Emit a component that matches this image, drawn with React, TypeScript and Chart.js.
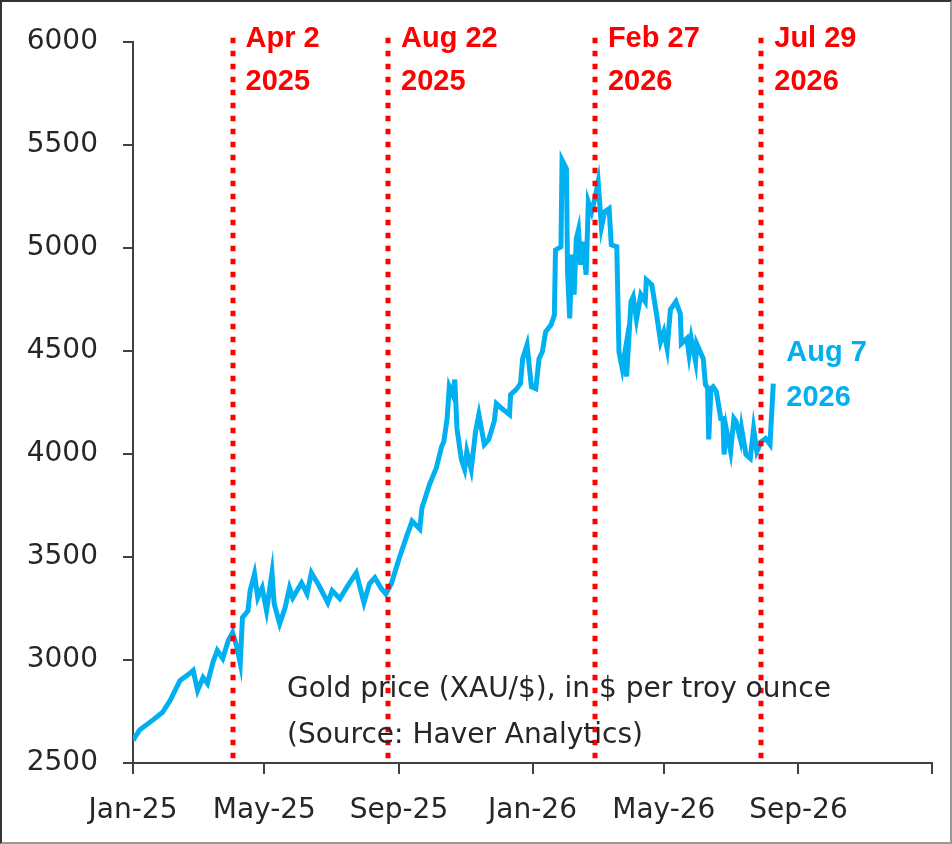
import React, { useEffect, useRef } from 'react'
import { Chart, registerables } from 'chart.js'

Chart.register(...registerables)

document.body.style.margin = '0'

// days counted from 1 Jan 2025
const days = [
	0, 6, 18, 27, 34, 43, 52, 55, 59, 64, 68, 73, 77, 82, 87, 91, 95, 98, 100, 105,
	107, 111, 114, 118, 122, 127, 129, 134, 139, 143, 146, 154, 159, 163, 170, 178,
	182, 189, 195, 204, 211, 216, 221, 227, 231, 236, 243, 250, 255, 262, 264, 271,
	277, 282, 284, 287, 289, 292, 294, 296, 300, 303, 305, 309, 313, 316, 321, 325,
	330, 332, 337, 344, 345, 350, 354, 356, 360, 364, 368, 371, 374, 377, 382, 385,
	386, 391, 392, 396, 397, 399, 401, 403, 405, 407, 409, 411, 414, 416, 419, 422,
	425, 428, 431, 435, 437, 442, 444, 447, 450, 451, 455, 457, 460, 464, 468, 469,
	474, 478, 482, 485, 488, 491, 496, 500, 501, 506, 508, 510, 514, 515, 521, 523,
	525, 526, 528, 530, 533, 537, 539, 540, 542, 546, 549, 551, 555, 556, 560, 564,
	567, 570, 574, 578, 582, 585,
]

// gold price, $ per troy ounce
const prices = [
	2610, 2660, 2708, 2746, 2804, 2901, 2935, 2949, 2852, 2915, 2886, 2988, 3046, 3007,
	3094, 3133, 3060, 2983, 3205, 3239, 3336, 3418, 3302, 3350, 3239, 3423, 3273, 3176,
	3254, 3350, 3302, 3374, 3321, 3423, 3360, 3278, 3336, 3297, 3350, 3423, 3278, 3370,
	3399, 3346, 3321, 3370, 3490, 3600, 3674, 3636, 3737, 3853, 3930, 4036, 4060, 4172,
	4326, 4288, 4360, 4123, 3973, 3925, 4012, 3925, 4109, 4191, 4046, 4070, 4157, 4244,
	4220, 4191, 4288, 4312, 4341, 4462, 4530, 4326, 4317, 4462, 4496, 4593, 4627, 4675,
	4990, 5005, 5426, 5383, 4885, 4658, 4967, 4773, 5044, 5088, 4918, 5030, 4870, 5223,
	5175, 5238, 5320, 5100, 5175, 5190, 5015, 5005, 4496, 4414, 4511, 4375, 4739, 4763,
	4652, 4773, 4739, 4845, 4821, 4690, 4545, 4593, 4511, 4700, 4739, 4681, 4535, 4560,
	4482, 4560, 4448, 4535, 4462, 4336, 4320, 4070, 4317, 4326, 4302, 4172, 4172, 3997,
	4123, 4012, 4172, 4157, 4070, 4123, 3997, 3978, 4123, 4012, 4060, 4075, 4046, 4341,
]

const tickDays = [0, 120, 243, 365, 485, 608, 730]
const tickLabels = ['Jan-25', 'May-25', 'Sep-25', 'Jan-26', 'May-26', 'Sep-26', '']

const eventDays = [91, 233, 422, 574]
const eventLabels = [
	['Apr 2', '2025'],
	['Aug 22', '2025'],
	['Feb 27', '2026'],
	['Jul 29', '2026'],
]

const lastLabel = ['Aug 7', '2026']
const noteLines = ['Gold price (XAU/$), in $ per troy ounce', '(Source: Haver Analytics)']

const axisColor = '#404040'
const goldBlue = '#00B0F0'
const red = '#FF0000'

const overlay = {
	id: 'overlay',
	afterDatasetsDraw(chart: any) {
		const { ctx, chartArea, scales } = chart
		const x = scales.x
		ctx.save()

		// dotted event lines
		ctx.strokeStyle = red
		ctx.lineWidth = 5
		ctx.setLineDash([5.5, 7.5])
		eventDays.forEach((d) => {
			const px = Math.round(x.getPixelForValue(d))
			ctx.beginPath()
			ctx.moveTo(px, chartArea.top - 4)
			ctx.lineTo(px, chartArea.bottom)
			ctx.stroke()
		})
		ctx.setLineDash([])

		ctx.font = 'bold 29px "Liberation Sans", Arial, sans-serif'
		ctx.textAlign = 'left'
		ctx.textBaseline = 'alphabetic'
		ctx.fillStyle = red
		eventDays.forEach((d, i) => {
			const px = x.getPixelForValue(d) + 13
			ctx.fillText(eventLabels[i][0], px, chartArea.top + 5)
			ctx.fillText(eventLabels[i][1], px, chartArea.top + 48)
		})

		// last observation
		const lx = x.getPixelForValue(days[days.length - 1]) + 13
		ctx.fillStyle = goldBlue
		ctx.fillText(lastLabel[0], lx, chartArea.top + 319)
		ctx.fillText(lastLabel[1], lx, chartArea.top + 364)

		// note
		ctx.font = '28px "DejaVu Sans", sans-serif'
		ctx.fillStyle = '#262626'
		ctx.fillText(noteLines[0], chartArea.left + 154, chartArea.bottom - 66)
		ctx.fillText(noteLines[1], chartArea.left + 154, chartArea.bottom - 20)

		ctx.restore()
	},
}

const GoldChart: React.FC = () => {
	const chartRef = useRef<HTMLCanvasElement>(null)

	useEffect(() => {
		if (!chartRef.current) return
		const context = chartRef.current.getContext('2d')
		if (!context) return

		const chart = new Chart(context, {
			type: 'line',
			data: {
				datasets: [
					{
						label: 'Gold price',
						data: days.map((d, i) => ({ x: d, y: prices[i] })),
						borderColor: goldBlue,
						borderWidth: 5,
						pointRadius: 0,
						tension: 0,
						fill: false,
					},
				],
			},
			options: {
				animation: false,
				responsive: true,
				maintainAspectRatio: false,
				layout: { padding: { top: 39, right: 18, left: 0, bottom: 0 } },
				plugins: {
					legend: { display: false },
					tooltip: { enabled: false },
				},
				scales: {
					x: {
						type: 'linear',
						min: 0,
						max: 730,
						afterBuildTicks: (scale: any) => {
							scale.ticks = tickDays.map((v) => ({ value: v }))
						},
						afterFit: (scale: any) => {
							scale.height = 81
						},
						grid: {
							display: true,
							drawOnChartArea: false,
							drawTicks: true,
							tickLength: 11,
							color: axisColor,
							lineWidth: 2,
						},
						border: { display: true, color: axisColor, width: 2 },
						ticks: {
							autoSkip: false,
							maxRotation: 0,
							padding: 20,
							color: '#262626',
							font: { family: '"DejaVu Sans", sans-serif', size: 28 },
							callback: (_v: any, i: number) => tickLabels[i],
						},
					},
					y: {
						min: 2500,
						max: 6000,
						afterFit: (scale: any) => {
							scale.width = 133
						},
						grid: {
							display: true,
							drawOnChartArea: false,
							drawTicks: true,
							tickLength: 10,
							color: axisColor,
							lineWidth: 2,
						},
						border: { display: true, color: axisColor, width: 2 },
						ticks: {
							stepSize: 500,
							padding: 25,
							color: '#262626',
							font: { family: '"DejaVu Sans", sans-serif', size: 28 },
							callback: (v: any) => String(v),
						},
					},
				},
			},
			plugins: [overlay],
		})

		return () => {
			chart.destroy()
		}
	}, [])

	return <canvas ref={chartRef} />
}

export default function App() {
	return (
		<div style={{ position: 'relative', width: 952, height: 844, background: '#fff' }}>
			<GoldChart />
			<div
				style={{
					position: 'absolute',
					inset: 0,
					boxSizing: 'border-box',
					borderTop: '2px solid #333',
					borderLeft: '2px solid #333',
					borderRight: '2px solid #999',
					borderBottom: '2px solid #999',
					pointerEvents: 'none',
				}}
			/>
		</div>
	)
}
